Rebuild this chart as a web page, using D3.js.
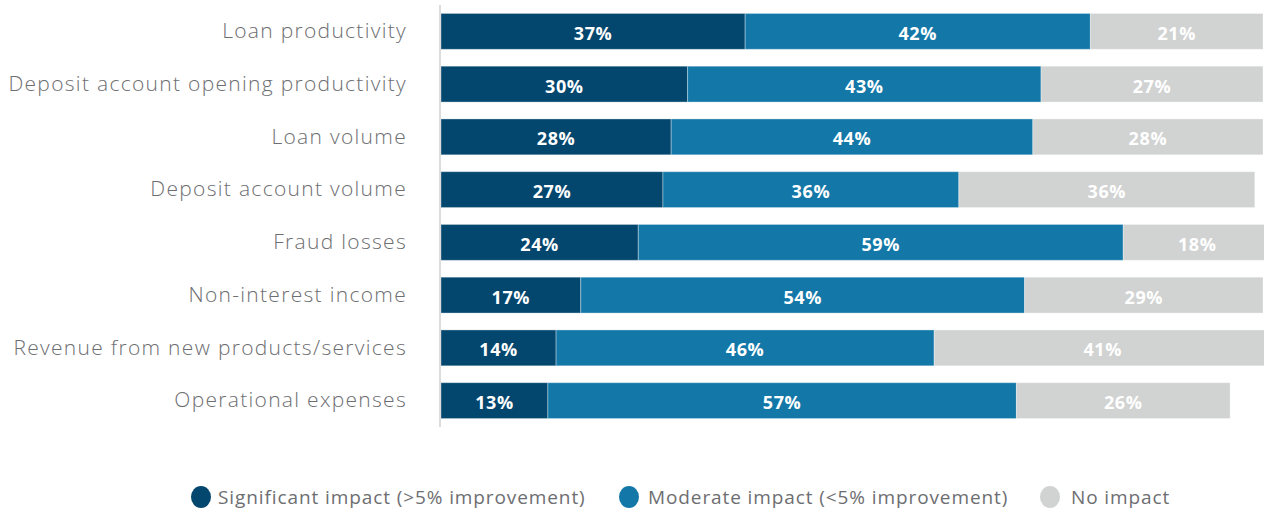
<!DOCTYPE html>
<html>
<head>
<meta charset="utf-8">
<script src="https://cdn.jsdelivr.net/npm/d3@7/dist/d3.min.js"></script>
<style>
  html, body { margin: 0; padding: 0; background: #fff; }
  svg { display: block; }
</style>
</head>
<body>
<svg id="chart" width="1264" height="510"></svg>
<script>
// Survey categories, top to bottom
const categories = [
  "Loan productivity",
  "Deposit account opening productivity",
  "Loan volume",
  "Deposit account volume",
  "Fraud losses",
  "Non-interest income",
  "Revenue from new products/services",
  "Operational expenses"
];

// Share of respondents (%) per impact level
const significant = [37, 30, 28, 27, 24, 17, 14, 13];
const moderate    = [42, 43, 44, 36, 59, 54, 46, 57];
const noImpact    = [21, 27, 28, 36, 18, 29, 41, 26];

const seriesNames = [
  "Significant impact (>5% improvement)",
  "Moderate impact (<5% improvement)",
  "No impact"
];
const seriesValues = [significant, moderate, noImpact];
const colors = ["#03466e", "#1378a8", "#d1d2d2"];

const svg = d3.select("#chart");
const plotLeft = 441, plotRight = 1263, plotTop = 5, plotBottom = 427;

const x = d3.scaleLinear().domain([0, 100]).range([plotLeft, plotRight]);
const y = d3.scaleBand().domain(categories).range([plotTop, plotBottom]).paddingInner(0.32).paddingOuter(0.16);

// Build stacked rows
const rows = categories.map((c, i) => {
  let acc = 0;
  return seriesValues.map((vals, s) => {
    const seg = { cat: c, s, v: vals[i], x0: acc, x1: acc + vals[i] };
    acc += vals[i];
    return seg;
  });
}).flat();

// Bars
svg.append("g")
  .selectAll("rect")
  .data(rows)
  .join("rect")
  .attr("x", d => x(d.x0))
  .attr("y", d => y(d.cat))
  .attr("width", d => x(d.x1) - x(d.x0))
  .attr("height", y.bandwidth())
  .attr("fill", d => colors[d.s])
  .attr("stroke", "rgba(255,255,255,0.35)")
  .attr("stroke-width", 1);

// Value labels
svg.append("g")
  .selectAll("text")
  .data(rows)
  .join("text")
  .attr("x", d => (x(d.x0) + x(d.x1)) / 2)
  .attr("y", d => y(d.cat) + y.bandwidth() / 2 + 2)
  .attr("dy", "0.36em")
  .attr("text-anchor", "middle")
  .attr("fill", "#fff")
  .attr("font-family", "'Open Sans', sans-serif")
  .attr("font-weight", 700)
  .attr("font-size", 18)
  .attr("letter-spacing", 0.6)
  .text(d => d.v + "%");

// Category axis
const axis = svg.append("g")
  .attr("transform", `translate(${plotLeft - 1},0)`)
  .call(d3.axisLeft(y).tickSize(0).tickPadding(33));
axis.select(".domain")
  .attr("stroke", "#d0d0d0")
  .attr("stroke-width", 1.5)
  .attr("d", `M0,${plotTop}V${plotBottom}`);
axis.selectAll(".tick text")
  .attr("fill", "#6d6e71")
  .attr("font-family", "'Open Sans', sans-serif")
  .attr("font-weight", 300)
  .attr("font-size", 21)
  .attr("letter-spacing", 1.3)
  .attr("dy", "0.32em");

// Legend
const legendItems = [
  { name: seriesNames[0], cx: 201, tx: 218 },
  { name: seriesNames[1], cx: 629, tx: 648 },
  { name: seriesNames[2], cx: 1050, tx: 1071 }
];
const legend = svg.append("g");
legendItems.forEach((d, i) => {
  legend.append("ellipse")
    .attr("cx", d.cx).attr("cy", 497)
    .attr("rx", 10).attr("ry", 11)
    .attr("fill", colors[i]);
  legend.append("text")
    .attr("x", d.tx).attr("y", 497)
    .attr("dy", "0.35em")
    .attr("fill", "#6d6e71")
    .attr("font-family", "'Open Sans', sans-serif")
    .attr("font-size", 19)
    .attr("letter-spacing", 0.9)
    .text(d.name);
});
</script>
</body>
</html>
